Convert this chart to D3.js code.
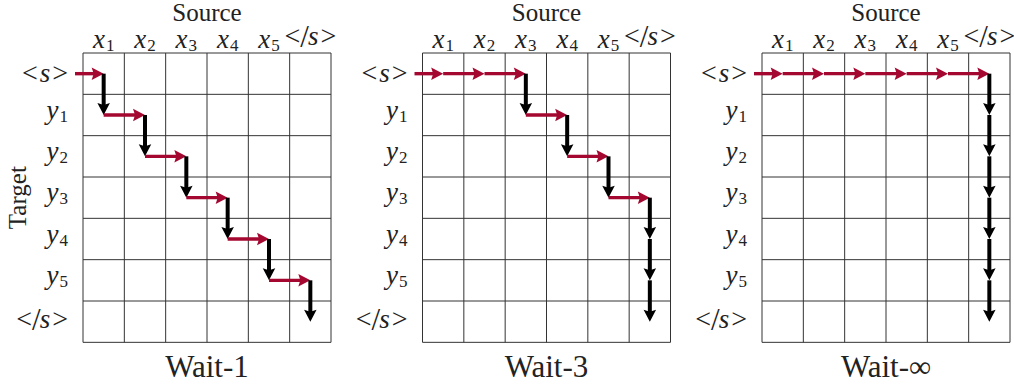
<!DOCTYPE html>
<html>
<head>
<meta charset="utf-8">
<script src="https://cdn.jsdelivr.net/npm/d3@7"></script>
<style>
  html, body { margin: 0; padding: 0; background: #fff; }
  svg { display: block; }
</style>
</head>
<body>
<svg id="chart" width="1014" height="385"></svg>
<script>
// Source tokens (columns) and target tokens (rows)
const sourceTokens = [["x", "1"], ["x", "2"], ["x", "3"], ["x", "4"], ["x", "5"], ["eos", ""]];
const targetTokens = [["bos", ""], ["y", "1"], ["y", "2"], ["y", "3"], ["y", "4"], ["y", "5"], ["eos", ""]];

// Action sequences for each decoding policy: read a source token or write a target token
const wait1Actions = ["read", "write", "read", "write", "read", "write", "read", "write", "read", "write", "read", "write"];
const wait3Actions = ["read", "read", "read", "write", "read", "write", "read", "write", "read", "write", "write", "write"];
const waitInfActions = ["read", "read", "read", "read", "read", "read", "write", "write", "write", "write", "write", "write"];

const panelTitles = ["Wait-1", "Wait-3", "Wait-\u221E"];
const panelActions = [wait1Actions, wait3Actions, waitInfActions];

const readColor = "#a4072f";
const writeColor = "#000000";
const serif = "'Liberation Serif'";

const svg = d3.select("#chart");

const panelLefts = [83, 422.5, 762];
const gridTop = 53;
const gridSize = 248;
const cell = gridSize / sourceTokens.length;
const gridHeight = cell * targetTokens.length;

function addText(g, size) {
  return g.append("text")
    .style("font-family", serif)
    .style("font-size", size + "px")
    .attr("fill", "#222");
}

function span(sel, txt, size, italic) {
  return sel.append("tspan").text(txt)
    .style("font-family", serif)
    .style("font-size", size + "px")
    .style("font-style", italic ? "italic" : "normal");
}

// Append a token label as math-styled tspans
function tokenLabel(sel, tok) {
  const [base, sub] = tok;
  if (base === "bos" || base === "eos") {
    span(sel, "<", 28, false);
    if (base === "eos") {
      span(sel, "/", 31, false).attr("dx", 0).attr("dy", 2);
      span(sel, "s", 27, true).attr("dx", -1).attr("dy", -2);
    } else {
      span(sel, "s", 27, true).attr("dx", 2);
    }
    span(sel, ">", 28, false).attr("dx", 2);
  } else {
    span(sel, base, 27, true);
    span(sel, sub, 17, false).attr("dy", 3).attr("dx", 1);
  }
}

function arrow(g, x1, y1, x2, y2, color, width) {
  const L = 12, W = 12.5, notch = 2;
  const dx = x2 - x1, dy = y2 - y1;
  const len = Math.hypot(dx, dy);
  const ux = dx / len, uy = dy / len;
  const bx = x2 - ux * L, by = y2 - uy * L;
  g.append("line")
    .attr("x1", x1).attr("y1", y1)
    .attr("x2", bx + ux * (notch + 1)).attr("y2", by + uy * (notch + 1))
    .attr("stroke", color).attr("stroke-width", width);
  const px = -uy, py = ux;
  g.append("path")
    .attr("d", `M${x2},${y2}L${bx + px * W / 2},${by + py * W / 2}L${bx + ux * notch},${by + uy * notch}L${bx - px * W / 2},${by - py * W / 2}Z`)
    .attr("fill", color);
}

panelActions.forEach((actions, p) => {
  const left = panelLefts[p];
  const g = svg.append("g");

  const x = d3.scaleBand().domain(d3.range(sourceTokens.length)).range([left, left + gridSize]).padding(0);
  const y = d3.scaleBand().domain(d3.range(targetTokens.length)).range([gridTop, gridTop + gridHeight]).padding(0);
  const cx = i => x(i) + x.bandwidth() / 2;
  const cy = j => y(j) + y.bandwidth() / 2;

  // grid
  const grid = g.append("g").attr("stroke", "#333").attr("stroke-width", 1);
  d3.range(sourceTokens.length + 1).forEach(i => {
    const xv = left + i * cell;
    grid.append("line").attr("x1", xv).attr("x2", xv).attr("y1", gridTop).attr("y2", gridTop + gridHeight);
  });
  d3.range(targetTokens.length + 1).forEach(j => {
    const yv = gridTop + j * cell;
    grid.append("line").attr("y1", yv).attr("y2", yv).attr("x1", left).attr("x2", left + gridSize);
  });

  // axis titles
  addText(g, 25).attr("x", left + gridSize / 2).attr("y", 21)
    .attr("text-anchor", "middle").text("Source");
  addText(g, 31).attr("x", left + gridSize / 2).attr("y", 377)
    .attr("text-anchor", "middle").text(panelTitles[p]);

  // column labels
  sourceTokens.forEach((tok, i) => {
    const base = tok[0] === "eos" ? 45 : 48;
    const t = addText(g, 26).attr("x", cx(i)).attr("y", base).attr("text-anchor", "middle");
    tokenLabel(t, tok);
  });
  // row labels
  targetTokens.forEach((tok, j) => {
    const off = tok[0] === "bos" ? 8 : tok[0] === "eos" ? 6 : 3.5;
    const t = addText(g, 26).attr("x", left - 15).attr("y", cy(j) + off).attr("text-anchor", "end");
    tokenLabel(t, tok);
  });

  // policy path
  const path = g.append("g");
  let col = -1, row = 0;
  actions.forEach(a => {
    if (a === "read") {
      const xs = col < 0 ? left - 8 : cx(col);
      arrow(path, xs, cy(row), cx(col + 1), cy(row), readColor, 3.4);
      col += 1;
    } else {
      arrow(path, cx(col), cy(row), cx(col), cy(row + 1), writeColor, 4);
      row += 1;
    }
  });
});

// shared row-axis title
addText(svg, 25)
  .attr("transform", `translate(26,${gridTop + gridHeight / 2}) rotate(-90)`)
  .attr("text-anchor", "middle").text("Target");
</script>
</body>
</html>
